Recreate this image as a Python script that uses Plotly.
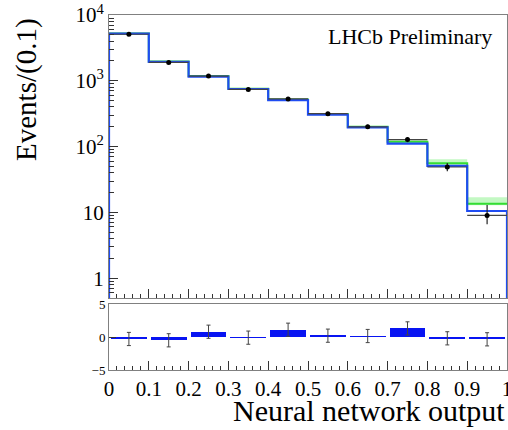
import numpy as np
import plotly.graph_objects as go

# Neural network output binning (10 bins of width 0.1)
bin_edges = [0.0, 0.1, 0.2, 0.3, 0.4, 0.5, 0.6, 0.7, 0.8, 0.9, 1.0]
bin_centers = [0.05, 0.15, 0.25, 0.35, 0.45, 0.55, 0.65, 0.75, 0.85, 0.95]
x_tick_vals = [0, 0.1, 0.2, 0.3, 0.4, 0.5, 0.6, 0.7, 0.8, 0.9, 1.0]
x_tick_text = ["0", "0.1", "0.2", "0.3", "0.4", "0.5", "0.6", "0.7", "0.8", "0.9", "1"]
y_tick_vals = [1, 10, 100, 1000, 10000]
y_tick_text = ["1", "10", "10<sup>2</sup>", "10<sup>3</sup>", "10<sup>4</sup>"]

# Observed events per bin and their statistical uncertainties
data_counts = [5100, 1900, 1180, 740, 530, 316, 200, 128, 49, 9.0]
data_err_up = [71, 44, 34, 27, 23, 18, 14, 11, 7.5, 3.9]
data_err_dn = [71, 44, 34, 27, 23, 18, 14, 11, 6.8, 2.4]

# Total fit model (blue)
fit_total = [5200, 1940, 1160, 750, 510, 305, 196, 111, 51, 10.5]

# Alternative model (green) with its uncertainty band
alt_model = [5250, 1960, 1180, 760, 520, 312, 200, 118, 56, 13.5]
alt_band_lo = [5150, 1920, 1150, 745, 505, 300, 193, 112, 53, 12.8]
alt_band_hi = [5350, 2000, 1210, 780, 535, 320, 205, 124, 64, 17.0]

# Pulls in the lower panel
pulls = [-0.3, -0.5, 0.8, -0.1, 1.1, 0.2, 0.15, 1.3, -0.2, -0.35]
pull_err = [1, 1, 1, 1, 1, 1, 1, 1, 1, 1]

Y_FLOOR = 1e-3  # below the visible range, used to close step outlines


def step_xy(values, close=False):
    xs = list(bin_edges[:-1]) + [bin_edges[-1]]
    ys = list(values) + [values[-1]]
    if close:
        xs = [bin_edges[0]] + xs + [bin_edges[-1]]
        ys = [Y_FLOOR] + ys + [Y_FLOOR]
    return xs, ys


SERIF = "Liberation Serif, Times New Roman, serif"
BLUE = "#1f4cf2"
AXIS_COL = "#808080"
TICK_COL = "#333333"

fig = go.Figure()

# Green uncertainty band
bx, blo = step_xy(alt_band_lo)
_, bhi = step_xy(alt_band_hi)
fig.add_trace(go.Scatter(x=bx, y=blo, mode="lines", line=dict(width=0, shape="hv"),
                         hoverinfo="skip", showlegend=False, xaxis="x", yaxis="y"))
fig.add_trace(go.Scatter(x=bx, y=bhi, mode="lines", line=dict(width=0, shape="hv"),
                         fill="tonexty", fillcolor="rgba(170,245,170,0.7)",
                         hoverinfo="skip", showlegend=False, xaxis="x", yaxis="y"))

# Green model line
gx, gy = step_xy(alt_model)
fig.add_trace(go.Scatter(x=gx, y=gy, mode="lines", line=dict(color="#33dd33", width=2, shape="hv"),
                         showlegend=False, xaxis="x", yaxis="y"))

# Blue total fit
fx, fy = step_xy(fit_total, close=True)
fig.add_trace(go.Scatter(x=fx, y=fy, mode="lines", line=dict(color=BLUE, width=2.2, shape="hv"),
                         showlegend=False, xaxis="x", yaxis="y"))

# Data points with error bars
fig.add_trace(go.Scatter(
    x=bin_centers, y=data_counts, mode="markers",
    marker=dict(color="black", size=5),
    error_y=dict(type="data", symmetric=False, array=data_err_up, arrayminus=data_err_dn,
                 color="#222222", thickness=1.2, width=0),
    error_x=dict(type="constant", value=0.05, color="#444444", thickness=1.2, width=0),
    showlegend=False, xaxis="x", yaxis="y"))

# Pull panel
fig.add_trace(go.Bar(x=bin_centers, y=pulls, width=0.09, marker=dict(color="#0814f2", line=dict(width=0)),
                     showlegend=False, xaxis="x2", yaxis="y2"))
fig.add_trace(go.Scatter(
    x=bin_centers, y=pulls, mode="markers", marker=dict(size=1, color="rgba(0,0,0,0)"),
    error_y=dict(type="data", array=pull_err, color="#444444", thickness=1, width=2),
    showlegend=False, xaxis="x2", yaxis="y2"))

# Layout: main panel from px 15 to 298, pull panel from 304 to 370
H_TOP, H_BOT = 15, 60
plot_h = 430 - H_TOP - H_BOT


def dom(top_px, bot_px):
    return [(370 - bot_px) / plot_h, (370 - top_px) / plot_h]


x_minor = [round(0.02 * i, 2) for i in range(51) if i % 5 != 0]
y_minor = [m * 10 ** d for d in range(-1, 4) for m in range(2, 10) if 0.5 <= m * 10 ** d <= 10000]

common_x = dict(range=[0, 1], showline=True, linecolor=AXIS_COL, linewidth=1, mirror=True,
                ticks="inside", tickcolor=TICK_COL, ticklen=9, tickwidth=1,
                tickmode="array", tickvals=x_tick_vals, ticktext=x_tick_text,
                showgrid=False, zeroline=False,
                minor=dict(ticks="inside", ticklen=4.5, tickmode="array", tickvals=x_minor,
                           tickcolor=TICK_COL, showgrid=False))

fig.update_layout(
    width=508, height=430,
    margin=dict(l=109, r=1, t=H_TOP, b=H_BOT),
    paper_bgcolor="white", plot_bgcolor="white",
    font=dict(family=SERIF, color="black"),
    bargap=0,
    xaxis=dict(**common_x, domain=[0, 1], anchor="y", showticklabels=False),
    yaxis=dict(type="log", range=[np.log10(0.5), 4], domain=dom(15, 298), anchor="x",
               showline=True, linecolor=AXIS_COL, linewidth=1, mirror=True,
               ticks="inside", tickcolor=TICK_COL, ticklen=9, tickwidth=1,
               tickmode="array", tickvals=y_tick_vals, ticktext=y_tick_text,
               tickfont=dict(size=21, family=SERIF), showgrid=False, zeroline=False,
               minor=dict(ticks="inside", ticklen=5, tickmode="array", tickvals=y_minor,
                          tickcolor=TICK_COL, showgrid=False)),
    xaxis2=dict(**common_x, domain=[0, 1], anchor="y2", showticklabels=True,
                tickangle=0, ticklabeloverflow="allow", automargin=False,
                tickfont=dict(size=21, family=SERIF)),
    yaxis2=dict(range=[-5, 5], domain=dom(304, 370), anchor="x2",
                showline=True, linecolor=AXIS_COL, linewidth=1, mirror=True,
                ticks="inside", tickcolor=TICK_COL, ticklen=7, tickwidth=1,
                tickmode="array", tickvals=[-5, 0, 5], ticktext=["\u22125", "0", "5"],
                tickfont=dict(size=13, family=SERIF), showgrid=False, zeroline=False),
    annotations=[
        dict(text="LHCb Preliminary", xref="paper", yref="paper",
             x=(494 - 109) / 398, y=(370 - 36) / plot_h, xanchor="right", yanchor="middle",
             showarrow=False, font=dict(size=22, family=SERIF)),
        dict(text="Events/(0.1)", xref="paper", yref="paper", textangle=-90,
             x=(26 - 109) / 398, y=(370 - 90) / plot_h, xanchor="center", yanchor="middle",
             showarrow=False, font=dict(size=29, family=SERIF)),
        dict(text="Neural network output", xref="paper", yref="paper",
             x=1.0, y=(370 - 410) / plot_h, xanchor="right", yanchor="middle",
             showarrow=False, font=dict(size=30, family=SERIF)),
    ],
)

fig.write_html("out.html")
